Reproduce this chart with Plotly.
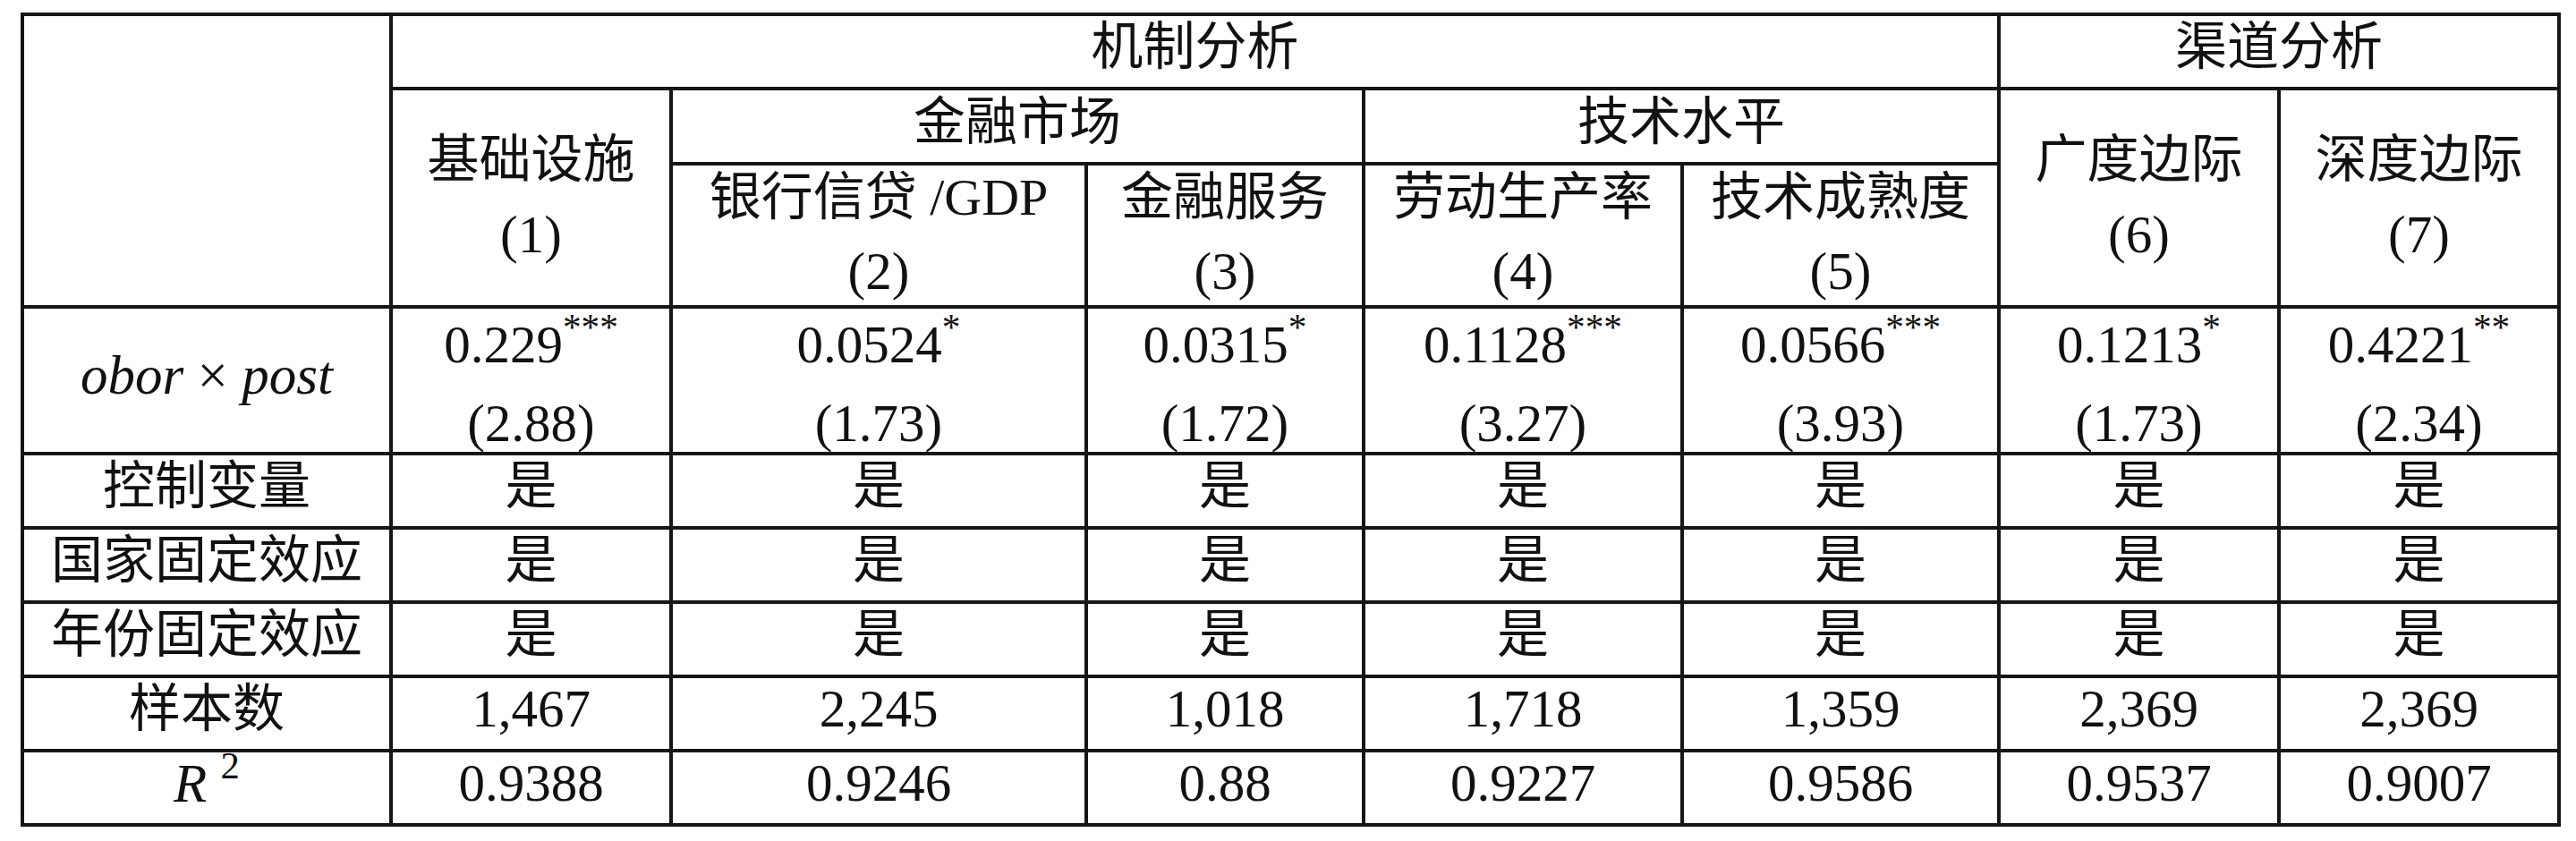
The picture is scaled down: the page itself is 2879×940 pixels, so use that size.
import plotly.graph_objects as go

# 表格内容
group_titles = ["机制分析", "渠道分析"]
subgroup_titles = ["金融市场", "技术水平"]
model_names = ["基础设施", "银行信贷 /GDP", "金融服务", "劳动生产率", "技术成熟度", "广度边际", "深度边际"]
model_nums = ["(1)", "(2)", "(3)", "(4)", "(5)", "(6)", "(7)"]
coef = ["0.229", "0.0524", "0.0315", "0.1128", "0.0566", "0.1213", "0.4221"]
stars = ["***", "*", "*", "***", "***", "*", "**"]
tstat = ["2.88", "1.73", "1.72", "3.27", "3.93", "1.73", "2.34"]
fe_labels = ["控制变量", "国家固定效应", "年份固定效应"]
fe_values = [["是"] * 7, ["是"] * 7, ["是"] * 7]
n_obs = [1467, 2245, 1018, 1718, 1359, 2369, 2369]
r2 = ["0.9388", "0.9246", "0.88", "0.9227", "0.9586", "0.9537", "0.9007"]

# 版式 (像素)
W, H = 2879, 940
col_edges = [25, 437, 750, 1214, 1524, 1880, 2234, 2547, 2860]
row_edges = [16, 99, 183, 343, 507, 590, 673, 756, 839, 922]
LINE = dict(color="#161616", width=4)
FONT = "Liberation Serif, Noto Sans CJK SC, serif"
CJK = 58
NUM = 59

cx = [(col_edges[i] + col_edges[i + 1]) / 2 for i in range(len(col_edges) - 1)]
mid = lambda a, b: (a + b) / 2

fig = go.Figure()


def add_text(xs, ys, texts, size):
    fig.add_trace(go.Scatter(
        x=xs, y=ys, text=texts, mode="text", hoverinfo="skip",
        textposition="middle center",
        textfont=dict(family=FONT, size=size, color="#111111"),
        showlegend=False,
    ))


# 表头
add_text([mid(col_edges[1], col_edges[6]), mid(col_edges[6], col_edges[8])],
         [mid(row_edges[0], row_edges[1])] * 2, group_titles, CJK)
add_text([mid(col_edges[2], col_edges[4]), mid(col_edges[4], col_edges[6])],
         [mid(row_edges[1], row_edges[2])] * 2, subgroup_titles, CJK)

# 模型名称: 第1,6,7列跨两行, 第2-5列在下层
tall = [0, 5, 6]
name_y = [183 if i in tall else 225 for i in range(7)]
num_y = [267 if i in tall else 308 for i in range(7)]
add_text(cx[1:], name_y, model_names, CJK)
add_text(cx[1:], num_y, model_nums, NUM)

# 系数与 t 值
add_text([cx[0]], [mid(row_edges[3], row_edges[4])],
         ["<i>obor</i> × <i>post</i>"], NUM + 2)
add_text(cx[1:], [390] * 7, [c + "<sup>" + s + "</sup>" for c, s in zip(coef, stars)], NUM)
add_text(cx[1:], [478] * 7, ["(" + t + ")" for t in tstat], NUM)

# 固定效应
for k, (lab, vals) in enumerate(zip(fe_labels, fe_values)):
    y = mid(row_edges[4 + k], row_edges[5 + k])
    add_text([cx[0]], [y], [lab], CJK)
    add_text(cx[1:], [y] * 7, vals, CJK)

# 样本数与 R2
y = mid(row_edges[7], row_edges[8])
add_text([cx[0]], [y], ["样本数"], CJK)
add_text(cx[1:], [y] * 7, [f"{n:,}" for n in n_obs], NUM)
y = mid(row_edges[8], row_edges[9])
add_text([cx[0]], [y], ["<i>R</i> <sup>2</sup>"], NUM + 2)
add_text(cx[1:], [y] * 7, r2, NUM)

# 表格线
shapes = []
hlines = [
    (row_edges[0], col_edges[0], col_edges[8]),
    (row_edges[1], col_edges[1], col_edges[8]),
    (row_edges[2], col_edges[2], col_edges[6]),
] + [(r, col_edges[0], col_edges[8]) for r in row_edges[3:]]
vlines = [
    (col_edges[0], row_edges[0]), (col_edges[1], row_edges[0]),
    (col_edges[2], row_edges[1]), (col_edges[3], row_edges[2]),
    (col_edges[4], row_edges[1]), (col_edges[5], row_edges[2]),
    (col_edges[6], row_edges[0]), (col_edges[7], row_edges[1]),
    (col_edges[8], row_edges[0]),
]
for y0, x0, x1 in hlines:
    shapes.append(dict(type="line", x0=x0 - 2, x1=x1 + 2, y0=y0, y1=y0, line=LINE))
for x0, y0 in vlines:
    shapes.append(dict(type="line", x0=x0, x1=x0, y0=y0, y1=row_edges[-1], line=LINE))

fig.update_layout(
    width=W, height=H,
    margin=dict(l=0, r=0, t=0, b=0),
    paper_bgcolor="white", plot_bgcolor="white",
    shapes=shapes,
    xaxis=dict(range=[0, W], visible=False, fixedrange=True),
    yaxis=dict(range=[H, 0], visible=False, fixedrange=True),
)

fig.write_html("out.html", config={"displayModeBar": False},
               post_script="document.body.style.margin='0';")
